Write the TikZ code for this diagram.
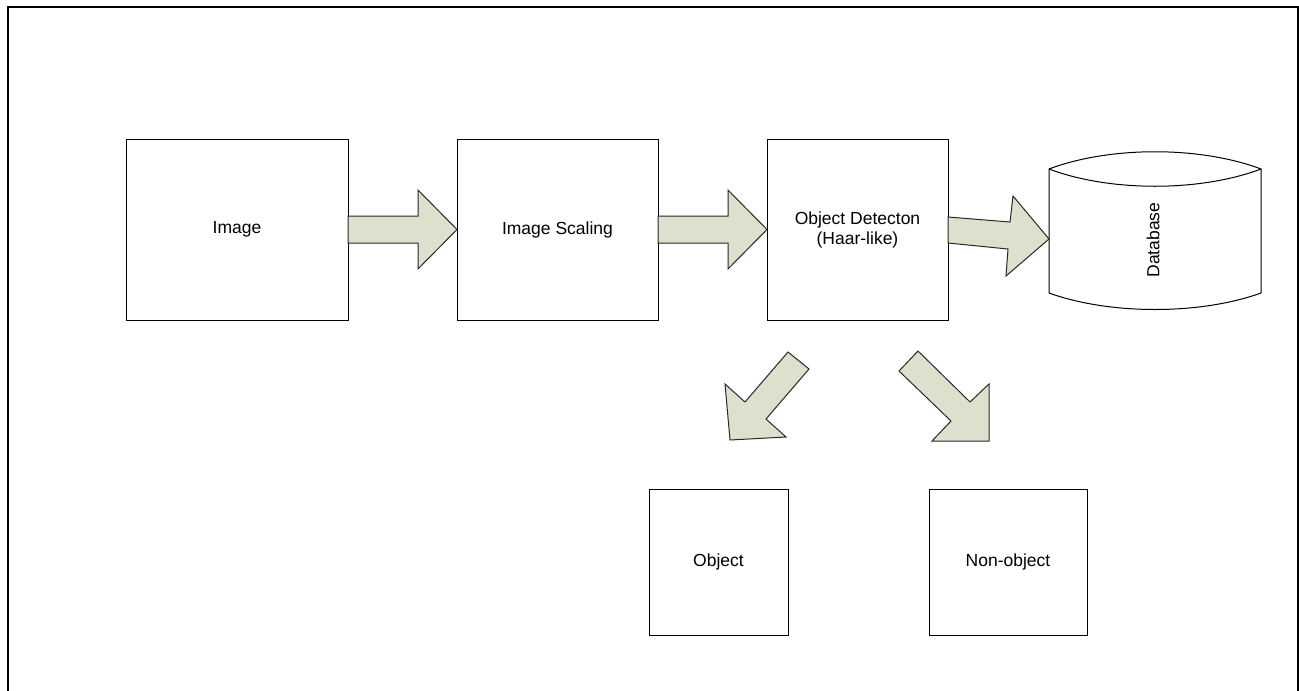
\documentclass[tikz,border=0pt]{standalone}
\usepackage{fontspec}
\setmainfont{Liberation Sans}
\definecolor{arrowfill}{RGB}{221,224,204}
\definecolor{arrowline}{RGB}{40,40,40}
\tikzset{
  box/.style={draw=black, line width=1pt, fill=white, inner sep=2pt, align=center,
              font=\fontsize{17.5}{20}\selectfont},
  blockarrow/.style={draw=arrowline, line width=1pt, fill=arrowfill, line join=miter},
  frame/.style={draw=black, line width=2pt},
}
\begin{document}
\begin{tikzpicture}[x=1pt,y=-1pt]
  \useasboundingbox (0,0) rectangle (1299,691);
  \fill[white] (0,0) rectangle (1299,691);

  % outer frame, open at the bottom
  \draw[frame] (7.5,691) -- (7.5,6.5) -- (1297.5,6.5) -- (1297.5,691);

  % processing boxes
  \node[box, minimum width=222pt, minimum height=181pt] (img) at (237,229.5) {Image};
  \node[box, minimum width=201pt, minimum height=181pt] (scale) at (557.5,229.5) {Image Scaling};
  \node[box, minimum width=181pt, minimum height=181pt] (detect) at (857.5,229.5) {Object Detecton\\(Haar-like)};
  \node[box, minimum width=139pt, minimum height=146pt] (obj) at (718.5,562) {Object};
  \node[box, minimum width=158pt, minimum height=146pt] (nonobj) at (1008,562) {Non-object};

  % database drum
  \coordinate (dbtl) at (1049,169);
  \coordinate (dbtr) at (1261,169);
  \coordinate (dbbl) at (1049,293);
  \coordinate (dbbr) at (1261,293);
  \draw[line width=1pt, fill=white]
    (dbtl) .. controls (1110,146) and (1200,146) .. (dbtr)
    -- (dbbr) .. controls (1200,315) and (1110,315) .. (dbbl) -- cycle;
  \draw[line width=1pt]
    (dbtl) .. controls (1110,192) and (1200,192) .. (dbtr);
  \node[font=\fontsize{17.5}{20}\selectfont, rotate=90] (db) at (1153,240) {Database};

  % block arrows between the stages
  \draw[blockarrow] (348,216) -- (418,216) -- (418,190) -- (457,229.5)
    -- (418,269) -- (418,243) -- (348,243) -- cycle;
  \draw[blockarrow] (658,216) -- (728,216) -- (728,190) -- (767,229.5)
    -- (728,269) -- (728,243) -- (658,243) -- cycle;
  \draw[blockarrow] (948,217) -- (1010,222) -- (1013,196) -- (1049,239)
    -- (1006,276) -- (1008,249) -- (948,243) -- cycle;
  \draw[blockarrow] (788,352) -- (809,369) -- (766,419) -- (786,437)
    -- (730,440) -- (725,384) -- (745,402) -- cycle;
  \draw[blockarrow] (918,351) -- (899,371) -- (951,421) -- (932,441)
    -- (989,441) -- (989,384) -- (970,402) -- cycle;
\end{tikzpicture}
\end{document}
